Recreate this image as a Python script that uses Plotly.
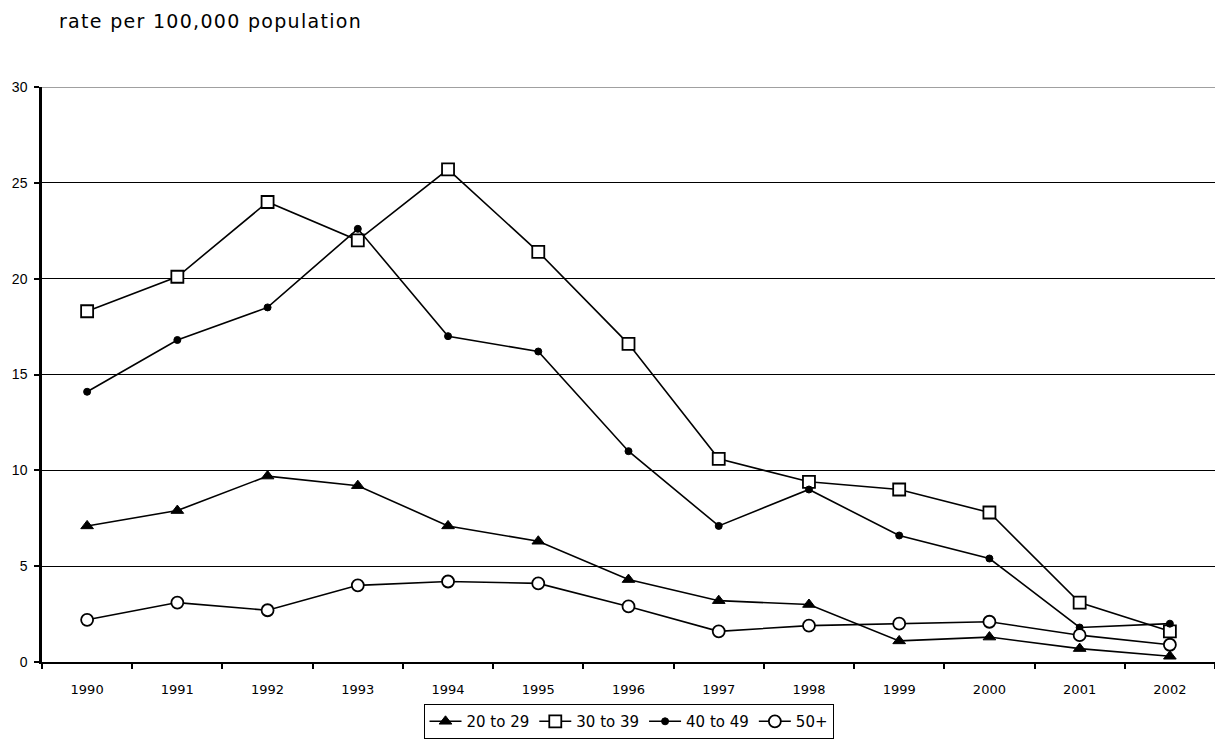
import plotly.graph_objects as go

years = ["1990", "1991", "1992", "1993", "1994", "1995", "1996",
         "1997", "1998", "1999", "2000", "2001", "2002"]
age_20_29 = [7.1, 7.9, 9.7, 9.2, 7.1, 6.3, 4.3, 3.2, 3.0, 1.1, 1.3, 0.7, 0.3]
age_30_39 = [18.3, 20.1, 24.0, 22.0, 25.7, 21.4, 16.6, 10.6, 9.4, 9.0, 7.8, 3.1, 1.6]
age_40_49 = [14.1, 16.8, 18.5, 22.6, 17.0, 16.2, 11.0, 7.1, 9.0, 6.6, 5.4, 1.8, 2.0]
age_50_plus = [2.2, 3.1, 2.7, 4.0, 4.2, 4.1, 2.9, 1.6, 1.9, 2.0, 2.1, 1.4, 0.9]
y_ticks = [0, 5, 10, 15, 20, 25, 30]

FONT = "'DejaVu Sans', sans-serif"

series = [
    ("20 to 29", age_20_29, dict(symbol="triangle-up", size=11, color="black",
                                 line=dict(color="black", width=1))),
    ("30 to 39", age_30_39, dict(symbol="square", size=12, color="white",
                                 line=dict(color="black", width=1.8))),
    ("40 to 49", age_40_49, dict(symbol="circle", size=7, color="black",
                                 line=dict(color="black", width=1))),
    ("50+", age_50_plus, dict(symbol="circle", size=12, color="white",
                              line=dict(color="black", width=1.8))),
]

fig = go.Figure()
for name, vals, marker in series:
    fig.add_trace(go.Scatter(
        x=years, y=vals, name=name, mode="lines+markers",
        line=dict(color="black", width=1.6), marker=marker,
        cliponaxis=False,
    ))

fig.update_layout(
    width=1215, height=740,
    margin=dict(l=42, r=0, t=87, b=78),
    paper_bgcolor="white", plot_bgcolor="white",
    font=dict(family=FONT, size=13, color="black"),
    showlegend=True,
    legend=dict(orientation="h", x=0.5, xanchor="center", y=-0.134, yanchor="bottom",
                bordercolor="black", borderwidth=1, bgcolor="white",
                font=dict(family=FONT, size=15), itemwidth=32,
                tracegroupgap=0),
    annotations=[dict(text='<span style="letter-spacing:1.3px">rate per 100,000 population</span>',
                      xref="paper", yref="paper",
                      x=0.0, y=1.0, xanchor="left", yanchor="middle", xshift=15,
                      yshift=66, showarrow=False,
                      font=dict(family=FONT, size=19))],
    shapes=[dict(type="line", xref="paper", yref="y", x0=0, x1=1, y0=30, y1=30,
                 line=dict(color="#808080", width=1.5), layer="above")],
)

fig.update_xaxes(
    type="category", showgrid=False, showline=True, linecolor="black", linewidth=2,
    ticks="outside", tickson="boundaries", ticklen=5, tickcolor="black", tickwidth=1.5,
    tickfont=dict(family=FONT, size=13), range=[-0.5, 12.5], ticklabelstandoff=14,
)
fig.update_yaxes(
    range=[0, 30], tickvals=y_ticks, showgrid=True, gridcolor="black", gridwidth=1,
    showline=True, linecolor="black", linewidth=2.5, ticks="outside", ticklen=5,
    tickcolor="black", tickwidth=1.5, zeroline=False, ticklabelstandoff=4,
    tickfont=dict(family="'Liberation Sans', Arial, sans-serif", size=14),
)

fig.write_html("out.html",
               config={"displayModeBar": False},
               post_script="document.body.style.margin='0';document.body.style.overflow='hidden';")
